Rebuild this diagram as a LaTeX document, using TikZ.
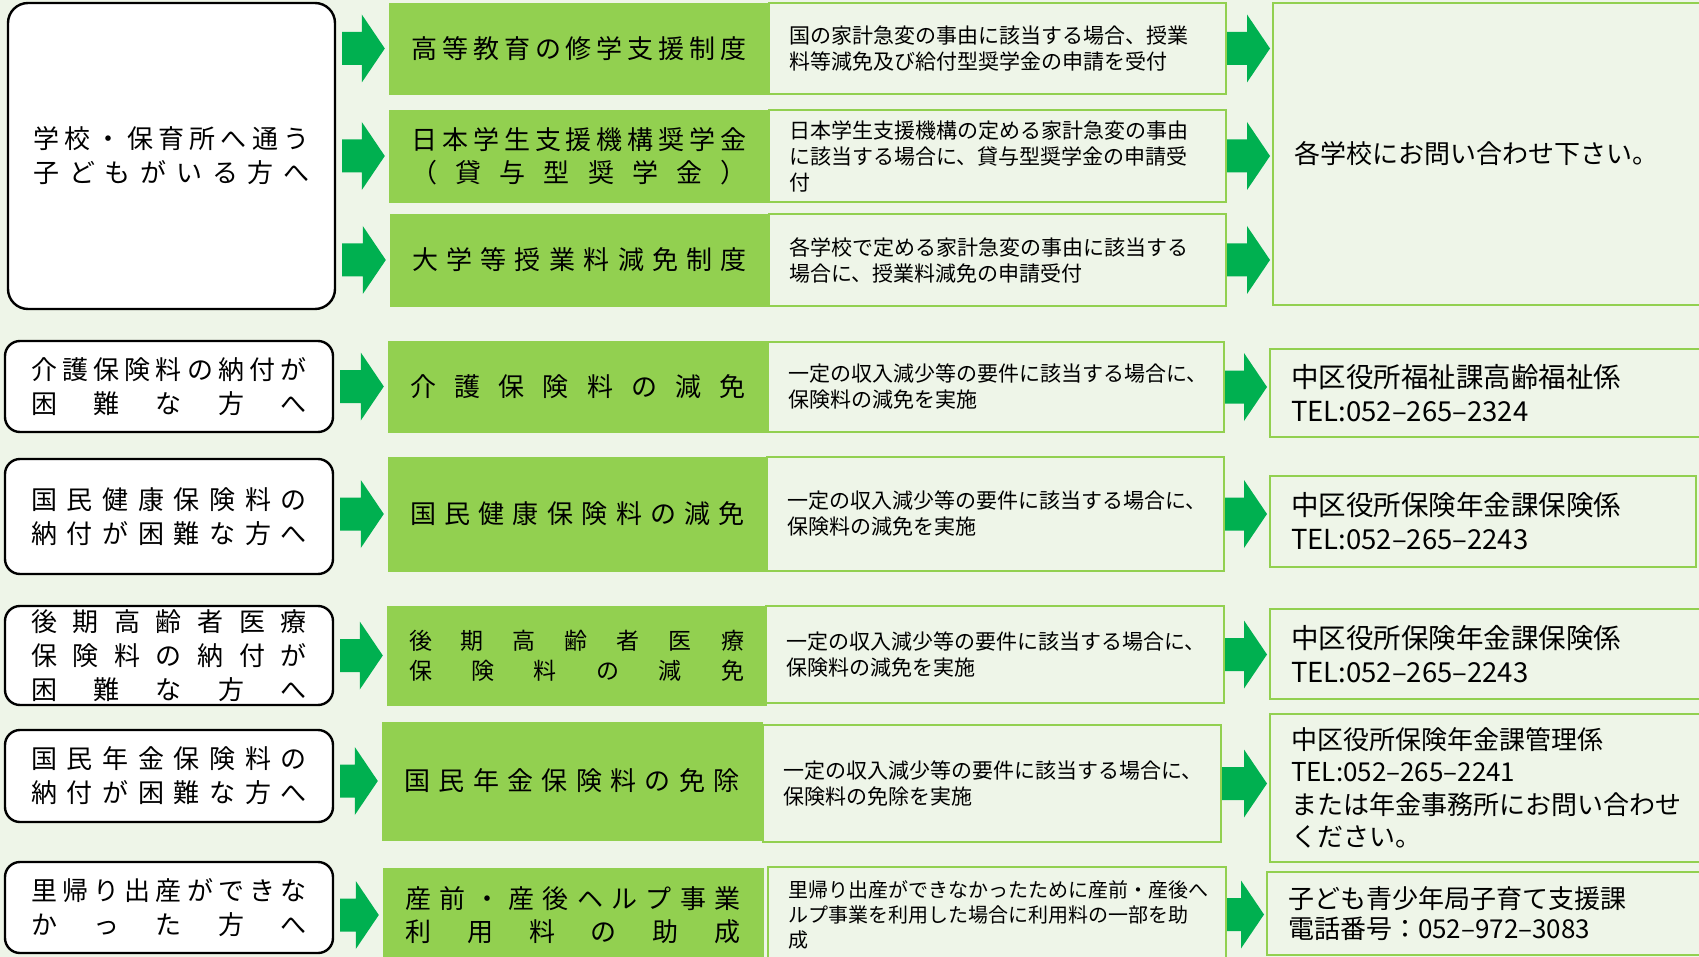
\documentclass[tikz,border=0pt]{standalone}
\usepackage{fontspec}
\setmainfont{Noto Sans CJK JP}
\usetikzlibrary{calc}
\definecolor{bg}{RGB}{238,245,232}
\definecolor{aidgreen}{RGB}{146,208,80}
\definecolor{arrowgreen}{RGB}{0,176,80}

% spread the characters of a line evenly over a width
\newcommand\spread[2]{\hbox to #1{\spreadgo#2\relax}}
\def\spreadgo#1#2{#1\ifx\relax#2\else\hfill\expandafter\spreadgo\expandafter#2\fi}
\newcommand\wl[1]{\spread{276pt}{#1}}
\newcommand\al[1]{\spread{335pt}{#1}}

\begin{document}
\begin{tikzpicture}[x=1pt,y=-1pt,
  who/.style={draw, line width=2.4pt, rounded corners=15pt, fill=white, inner sep=0pt,
    align=center, font=\fontsize{26}{34}\selectfont},
  aid/.style={fill=aidgreen, draw=aidgreen, inner sep=0pt, align=center,
    font=\fontsize{26}{33}\selectfont},
  desc/.style={draw=aidgreen, line width=2pt, fill=bg, inner xsep=20pt, inner ysep=0pt,
    align=left, font=\fontsize{21}{26}\selectfont},
  ask/.style={draw=aidgreen, line width=2pt, fill=bg, inner xsep=21pt, inner ysep=0pt,
    align=left, font=\fontsize{26}{32.5}\selectfont},
  bigarrow/.style 2 args={to path={let \p1=(\tikztostart), \p2=(\tikztotarget) in
    (\x1+#1,\y1+16.5pt) -- (\x2-#2-23pt,\y1+16.5pt) -- (\x2-#2-23pt,\y1+34pt) -- (\x2-#2,\y1)
    -- (\x2-#2-23pt,\y1-34pt) -- (\x2-#2-23pt,\y1-16.5pt) -- (\x1+#1,\y1-16.5pt) -- cycle}}]
\fill[bg] (0,0) rectangle (1699,957);
\useasboundingbox (0,0) rectangle (1699,957);

% who the help is for
\node[who, rounded corners=20pt, minimum width=327, minimum height=306] (who1) at (171.5,156) {\wl{学校・保育所へ通う}\\\wl{子どもがいる方へ}};
\node[who, minimum width=328, minimum height=91] (who4) at (169,386.5) {\wl{介護保険料の納付が}\\\wl{困難な方へ}};
\node[who, minimum width=328, minimum height=115] (who5) at (169,516.5) {\wl{国民健康保険料の}\\\wl{納付が困難な方へ}};
\node[who, minimum width=328, minimum height=99] (who6) at (169,655.5) {\wl{後期高齢者医療}\\\wl{保険料の納付が}\\\wl{困難な方へ}};
\node[who, minimum width=328, minimum height=92] (who7) at (169,776) {\wl{国民年金保険料の}\\\wl{納付が困難な方へ}};
\node[who, minimum width=328, minimum height=91] (who8) at (169,907.5) {\wl{里帰り出産ができな}\\\wl{かった方へ}};

% the schemes
\node[aid, minimum width=380, minimum height=91] (aid1) at (579,48.5) {\al{高等教育の修学支援制度}};
\node[aid, minimum width=380, minimum height=92] (aid2) at (579,156) {\al{日本学生支援機構奨学金}\\\al{（貸与型奨学金）}};
\node[aid, minimum width=379, minimum height=92] (aid3) at (579.5,260) {\al{大学等授業料減免制度}};
\node[aid, minimum width=380, minimum height=91] (aid4) at (578,386.5) {\al{介護保険料の減免}};
\node[aid, minimum width=379, minimum height=114] (aid5) at (577.5,514) {\al{国民健康保険料の減免}};
\node[aid, minimum width=379, minimum height=99, font=\fontsize{23}{30}\selectfont] (aid6) at (576.5,655.5) {\al{後期高齢者医療}\\\al{保険料の減免}};
\node[aid, minimum width=380, minimum height=118] (aid7) at (572,781) {\al{国民年金保険料の免除}};
\node[aid, minimum width=380, minimum height=94] (aid8) at (573,915) {\al{産前・産後ヘルプ事業}\\\al{利用料の助成}};

% what they do
\node[desc, minimum width=457, minimum height=91, text width=417pt] (desc1) at (997.5,48.5) {国の家計急変の事由に該当する場合、授業\\料等減免及び給付型奨学金の申請を受付};
\node[desc, minimum width=457, minimum height=92, text width=417pt] (desc2) at (997.5,156) {日本学生支援機構の定める家計急変の事由\\に該当する場合に、貸与型奨学金の申請受\\付};
\node[desc, minimum width=457, minimum height=92, text width=417pt] (desc3) at (997.5,260) {各学校で定める家計急変の事由に該当する\\場合に、授業料減免の申請受付};
\node[desc, minimum width=456, minimum height=90, text width=416pt] (desc4) at (996,387) {一定の収入減少等の要件に該当する場合に、\\保険料の減免を実施};
\node[desc, minimum width=457, minimum height=114, text width=417pt] (desc5) at (995.5,514) {一定の収入減少等の要件に該当する場合に、\\保険料の減免を実施};
\node[desc, minimum width=458, minimum height=97, text width=418pt] (desc6) at (995,654.5) {一定の収入減少等の要件に該当する場合に、\\保険料の減免を実施};
\node[desc, minimum width=458, minimum height=117, text width=418pt] (desc7) at (992,783.5) {一定の収入減少等の要件に該当する場合に、\\保険料の免除を実施};
\node[desc, minimum width=458, minimum height=95, text width=418pt, font=\fontsize{20}{25}\selectfont] (desc8) at (997,914.5) {里帰り出産ができなかったために産前・産後へ\\ルプ事業を利用した場合に利用料の一部を助\\成};

% where to ask
\node[ask, minimum width=429, minimum height=302, text width=387pt] (ask1) at (1487.5,154) {各学校にお問い合わせ下さい。};
\node[ask, minimum width=432, minimum height=88, text width=390pt, font=\fontsize{27.5}{34}\selectfont] (ask4) at (1486,393) {中区役所福祉課高齢福祉係\\TEL:052–265–2324};
\node[ask, minimum width=426, minimum height=91, text width=384pt, font=\fontsize{27.5}{34}\selectfont] (ask5) at (1483,521.5) {中区役所保険年金課保険係\\TEL:052–265–2243};
\node[ask, minimum width=432, minimum height=90, text width=390pt, font=\fontsize{27.5}{34}\selectfont] (ask6) at (1486,654) {中区役所保険年金課保険係\\TEL:052–265–2243};
\node[ask, minimum width=432, minimum height=148, text width=390pt] (ask7) at (1486,788) {中区役所保険年金課管理係\\TEL:052–265–2241\\または年金事務所にお問い合わせ\\ください。};
\node[ask, minimum width=435, minimum height=83, text width=393pt, font=\fontsize{26}{30}\selectfont] (ask8) at (1484.5,913.5) {子ども青少年局子育て支援課\\電話番号：052–972–3083};

% block arrows
\fill[arrowgreen] (who1.east |- aid1.west) to[bigarrow={6pt}{4pt}] (aid1.west);
\fill[arrowgreen] (who1.east |- aid2.west) to[bigarrow={6pt}{4pt}] (aid2.west);
\fill[arrowgreen] (who1.east |- aid3.west) to[bigarrow={6pt}{4pt}] (aid3.west);
\fill[arrowgreen] (who4.east |- aid4.west) to[bigarrow={6pt}{4pt}] (aid4.west);
\fill[arrowgreen] (who5.east |- aid5.west) to[bigarrow={6pt}{4pt}] (aid5.west);
\fill[arrowgreen] (who6.east |- aid6.west) to[bigarrow={6pt}{4pt}] (aid6.west);
\fill[arrowgreen] (who7.east |- aid7.west) to[bigarrow={6pt}{4pt}] (aid7.west);
\fill[arrowgreen] (who8.east |- aid8.west) to[bigarrow={6pt}{4pt}] (aid8.west);
\fill[arrowgreen] (desc1.east) to[bigarrow={0pt}{2pt}] (ask1.west);
\fill[arrowgreen] (desc2.east) to[bigarrow={0pt}{2pt}] (ask1.west);
\fill[arrowgreen] (desc3.east) to[bigarrow={0pt}{2pt}] (ask1.west);
\fill[arrowgreen] (desc4.east) to[bigarrow={0pt}{2pt}] (ask4.west);
\fill[arrowgreen] (desc5.east) to[bigarrow={0pt}{2pt}] (ask5.west);
\fill[arrowgreen] (desc6.east) to[bigarrow={0pt}{2pt}] (ask6.west);
\fill[arrowgreen] (desc7.east) to[bigarrow={0pt}{2pt}] (ask7.west);
\fill[arrowgreen] (desc8.east) to[bigarrow={0pt}{2pt}] (ask8.west);
\end{tikzpicture}
\end{document}
